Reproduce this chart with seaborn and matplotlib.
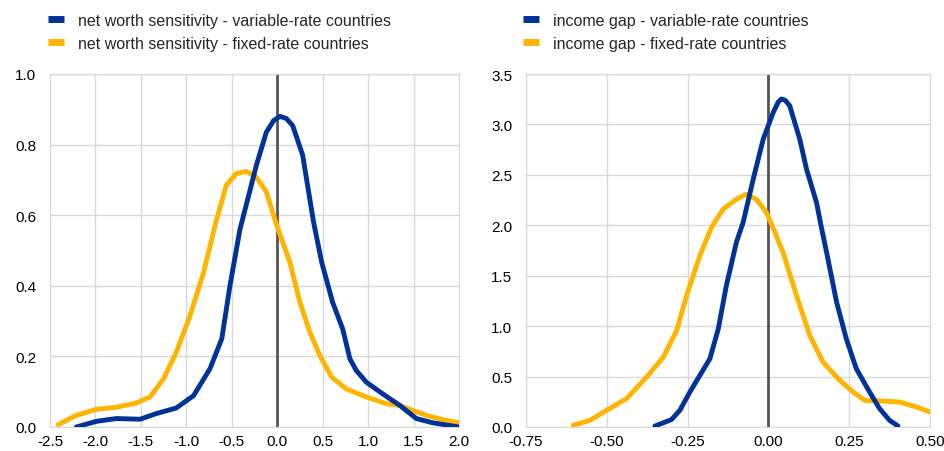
import pandas as pd
import seaborn as sns
import matplotlib.pyplot as plt

# net worth sensitivity densities
nw_var_x = [-2.21, -1.99, -1.77, -1.51, -1.33, -1.11, -0.92, -0.74, -0.61, -0.52, -0.41,
            -0.30, -0.23, -0.12, -0.04, 0.03, 0.10, 0.17, 0.28, 0.40, 0.49, 0.61, 0.72,
            0.80, 0.87, 0.98, 1.16, 1.35, 1.53, 1.71, 2.00]
nw_var_y = [0.0, 0.016, 0.024, 0.022, 0.038, 0.054, 0.089, 0.165, 0.25, 0.40, 0.56,
            0.67, 0.741, 0.835, 0.868, 0.880, 0.874, 0.854, 0.77, 0.58, 0.466, 0.353, 0.278,
            0.193, 0.16, 0.127, 0.094, 0.061, 0.024, 0.012, 0.0]
nw_fix_x = [-2.41, -2.21, -1.99, -1.77, -1.55, -1.40, -1.25, -1.11, -0.96, -0.81, -0.68,
            -0.56, -0.45, -0.34, -0.23, -0.12, -0.01, 0.14, 0.25, 0.36, 0.47, 0.60, 0.76,
            0.98, 1.20, 1.35, 1.49, 1.64, 1.82, 2.00]
nw_fix_y = [0.007, 0.033, 0.05, 0.056, 0.068, 0.085, 0.137, 0.212, 0.315, 0.438, 0.575,
            0.685, 0.718, 0.724, 0.708, 0.666, 0.575, 0.466, 0.353, 0.268, 0.202, 0.141, 0.108,
            0.085, 0.066, 0.061, 0.047, 0.033, 0.021, 0.012]

# income gap densities
ig_var_x = [-0.351, -0.300, -0.274, -0.243, -0.212, -0.181, -0.155, -0.130, -0.099, -0.078,
            -0.047, -0.016, 0.015, 0.030, 0.040, 0.052, 0.066, 0.097, 0.118, 0.149, 0.162,
            0.180, 0.211, 0.241, 0.272, 0.313, 0.344, 0.375, 0.401]
ig_var_y = [0.01, 0.073, 0.165, 0.347, 0.512, 0.677, 0.974, 1.403, 1.832, 2.03,
            2.457, 2.854, 3.119, 3.22, 3.252, 3.24, 3.185, 2.854, 2.556, 2.225, 2.01,
            1.733, 1.238, 0.875, 0.578, 0.347, 0.182, 0.066, 0.01]
ig_fix_x = [-0.604, -0.552, -0.501, -0.439, -0.377, -0.325, -0.284, -0.253, -0.212, -0.176,
            -0.140, -0.099, -0.068, -0.037, -0.006, 0.010, 0.045, 0.087, 0.128, 0.169,
            0.221, 0.262, 0.298, 0.355, 0.406, 0.458, 0.500]
ig_fix_y = [0.017, 0.066, 0.165, 0.281, 0.495, 0.693, 0.957, 1.304, 1.700, 1.98,
            2.159, 2.258, 2.308, 2.258, 2.126, 2.01, 1.733, 1.304, 0.908, 0.644,
            0.462, 0.347, 0.264, 0.257, 0.248, 0.198, 0.149]

blue = '#003299'
yellow = '#FFB400'

sns.set_style('whitegrid')
plt.rcParams['font.family'] = ['Liberation Sans', 'DejaVu Sans']

fig = plt.figure(figsize=(9.45, 4.52), dpi=100)
ax1 = fig.add_axes([50/945, 24/452, 409/945, 353/452])
ax2 = fig.add_axes([526/945, 24/452, 404/945, 353/452])

panels = [
    (ax1, nw_var_x, nw_var_y, nw_fix_x, nw_fix_y, 'net worth sensitivity',
     (-2.5, 2.0), [-2.5, -2.0, -1.5, -1.0, -0.5, 0.0, 0.5, 1.0, 1.5, 2.0], '{:.1f}',
     (0, 1.0), [0, 0.2, 0.4, 0.6, 0.8, 1.0], 48/945),
    (ax2, ig_var_x, ig_var_y, ig_fix_x, ig_fix_y, 'income gap',
     (-0.75, 0.5), [-0.75, -0.5, -0.25, 0.0, 0.25, 0.5], '{:.2f}',
     (0, 3.5), [0, 0.5, 1.0, 1.5, 2.0, 2.5, 3.0, 3.5], 523/945),
]

for ax, vx, vy, fx, fy, name, xl, xt, xfmt, yl, yt, legx in panels:
    df_v = pd.DataFrame({'x': vx, 'y': vy})
    df_f = pd.DataFrame({'x': fx, 'y': fy})
    ax.axvline(0, color='#555555', lw=2, zorder=1)
    sns.lineplot(ax=ax, data=df_v, x='x', y='y', color=blue, lw=3.5,
                 label=name + ' - variable-rate countries', sort=False, zorder=3)
    sns.lineplot(ax=ax, data=df_f, x='x', y='y', color=yellow, lw=3.5,
                 label=name + ' - fixed-rate countries', sort=False, zorder=2)
    ax.set_xlim(*xl)
    ax.set_ylim(*yl)
    ax.set_xticks(xt)
    ax.set_xticklabels([xfmt.format(t) for t in xt])
    ax.set_yticks(yt)
    ax.set_yticklabels(['{:.1f}'.format(t) for t in yt])
    ax.set_xlabel('')
    ax.set_ylabel('')
    ax.grid(color='#d9d9d9', lw=1)
    for s in ax.spines.values():
        s.set_color('#d9d9d9')
    ax.tick_params(axis='x', length=0, labelsize=11, colors='#000000', pad=5)
    ax.tick_params(axis='y', length=0, labelsize=11, colors='#000000', pad=10)
    leg = ax.legend(loc='upper left', bbox_to_anchor=(legx, 0.97),
                    bbox_transform=fig.transFigure, frameon=False,
                    fontsize=11.5, handlelength=1.0, handletextpad=0.9, labelspacing=0.5,
                    borderaxespad=0, borderpad=0)
    for h in leg.get_lines():
        h.set_linewidth(5)
        h.set_solid_capstyle('butt')

plt.savefig('out.png', dpi=100)
